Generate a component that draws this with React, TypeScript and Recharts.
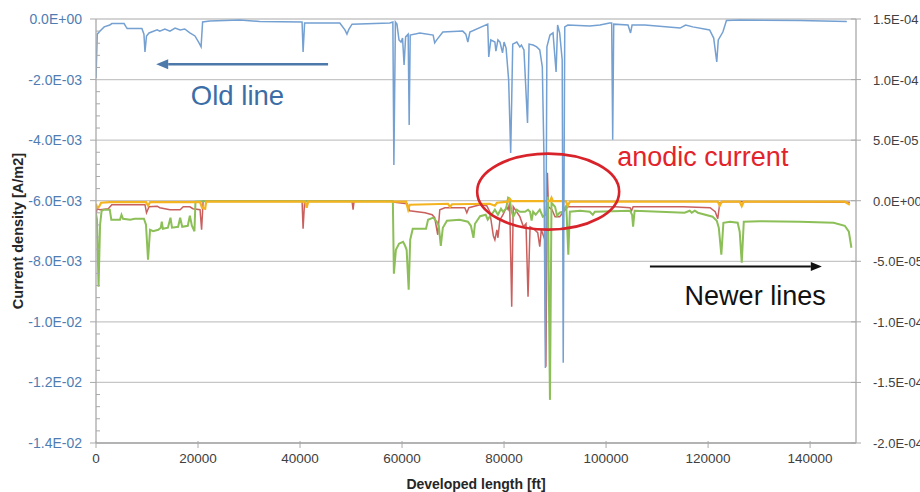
import React from "react";
import { LineChart, Line, XAxis, YAxis, CartesianGrid, ReferenceDot, ReferenceLine, Label } from "recharts";

// ---------- axes ----------
const X_MAX = 149000;
const X_TICKS = [0, 20000, 40000, 60000, 80000, 100000, 120000, 140000];
const LEFT_MAJOR_TICKS = [0, -0.002, -0.004, -0.006, -0.008, -0.01, -0.012, -0.014];
const RIGHT_TICKS = [1.5e-4, 1e-4, 5e-5, 0, -5e-5, -1e-4, -1.5e-4, -2e-4];
const LEFT_MINOR_STEP = 0.0004;

const X_TITLE = "Developed length [ft]";
const Y_TITLE = "Current density [A/m2]";
const OLD_LABEL = "Old line";
const NEW_LABEL = "Newer lines";
const ANODIC_LABEL = "anodic current";

// ---------- series: [developed length ft, current density A/m2] ----------
// Old line (left axis)
const OLD_LINE: [number, number][] = [
  [0, -1.95e-3], [250, -0.5e-3], [800, -0.4e-3], [1600, -0.26e-3], [2700, -0.2e-3], [3100, -0.15e-3],
  [5500, -0.15e-3], [5900, -0.26e-3], [6100, -0.31e-3], [9000, -0.31e-3], [9400, -0.5e-3], [9600, -1.09e-3],
  [9900, -0.56e-3], [10400, -0.46e-3], [12000, -0.36e-3], [12500, -0.4e-3], [13500, -0.33e-3], [14500, -0.4e-3],
  [15500, -0.3e-3], [16500, -0.36e-3], [17400, -0.33e-3], [18400, -0.46e-3], [19400, -0.56e-3], [20200, -0.79e-3],
  [20600, -0.92e-3], [20900, -0.1e-3], [22300, -0.07e-3], [28200, -0.03e-3], [32100, -0.08e-3], [40400, -0.1e-3],
  [40600, -1.09e-3], [40900, -0.13e-3], [47800, -0.13e-3], [48800, -0.36e-3], [49200, -0.5e-3], [49600, -0.33e-3],
  [50200, -0.17e-3], [57600, -0.13e-3], [58200, -0.1e-3], [58400, -4.82e-3], [58700, -0.1e-3], [59000, -0.17e-3],
  [59400, -0.69e-3], [59800, -0.76e-3], [60100, -0.63e-3], [60400, -1.52e-3], [60700, -0.59e-3], [61200, -0.5e-3],
  [61400, -3.5e-3], [61600, -0.53e-3], [63500, -0.46e-3], [66100, -0.53e-3], [66400, -0.79e-3], [66800, -0.69e-3],
  [68000, -0.43e-3], [71900, -0.4e-3], [72500, -0.5e-3], [72900, -0.76e-3], [73300, -0.43e-3], [76800, -0.17e-3],
  [77000, -1.25e-3], [77400, -0.69e-3], [78200, -0.76e-3], [78400, -1.06e-3], [78800, -0.69e-3], [79200, -0.76e-3],
  [79700, -1.12e-3], [80000, -0.76e-3], [80400, -0.96e-3], [80900, -2.01e-3], [81300, -4.42e-3], [81500, -2.67e-3],
  [81700, -0.83e-3], [82500, -0.76e-3], [83100, -0.92e-3], [83400, -0.86e-3], [83900, -1.02e-3], [84600, -3.43e-3],
  [84900, -0.83e-3], [85700, -0.86e-3], [86400, -0.92e-3], [87000, -1.02e-3], [87500, -1.58e-3], [87800, -4.32e-3],
  [88100, -11.52e-3], [88400, -0.92e-3], [89000, -0.53e-3], [89600, -0.46e-3], [90200, -1.75e-3], [90500, -0.2e-3],
  [90900, -0.46e-3], [91400, -1.35e-3], [91600, -11.35e-3], [91900, -0.26e-3], [92500, -0.2e-3], [96800, -0.23e-3],
  [98800, -0.2e-3], [100700, -0.13e-3], [101100, -0.13e-3], [101300, -3.99e-3], [101500, -0.17e-3], [104300, -0.2e-3],
  [104800, -0.46e-3], [105100, -0.2e-3], [107600, -0.2e-3], [114500, -0.3e-3], [115600, -0.2e-3], [117000, -0.26e-3],
  [120300, -0.36e-3], [121100, -0.63e-3], [121700, -1.42e-3], [122000, -0.69e-3], [122900, -0.43e-3], [123600, -0.05e-3],
  [126200, -0.03e-3], [138000, -0.05e-3], [147200, -0.08e-3],
];

// Newer lines (right axis)
const NEWER_RED: [number, number][] = [
  [0, -1.16e-5], [200, -0.66e-5], [800, -0.74e-5], [2400, -0.66e-5], [3100, -0.33e-5], [9600, -0.33e-5],
  [9900, -0.99e-5], [10400, -0.5e-5], [12000, -0.45e-5], [12500, -0.58e-5], [14500, -0.74e-5], [16500, -0.74e-5],
  [17100, -0.5e-5], [18400, -0.5e-5], [19000, -0.66e-5], [20400, -0.74e-5], [20700, -2.4e-5], [21000, -0.04e-5],
  [40400, -0.04e-5], [40600, -2.31e-5], [40900, -0.04e-5], [50200, -0.04e-5], [50400, -0.74e-5], [50600, -0.04e-5],
  [58000, -0.04e-5], [58600, -0.12e-5], [61000, -0.25e-5], [61500, -0.83e-5], [64500, -0.99e-5], [65900, -1.16e-5],
  [66400, -1.4e-5], [67000, -2.81e-5], [67400, -0.74e-5], [68400, -0.58e-5], [72300, -0.58e-5], [72700, -0.99e-5],
  [73100, -0.58e-5], [75300, -0.33e-5], [76600, -0.41e-5], [77200, -0.91e-5], [77900, -2.89e-5], [78200, -3.22e-5],
  [78600, -2.4e-5], [78800, -3.06e-5], [79200, -1.57e-5], [79800, -1.16e-5], [80500, -0.5e-5], [80800, -0.74e-5],
  [81100, -0.17e-5], [81500, -8.76e-5], [81800, -0.5e-5], [83100, -1.32e-5], [83800, -2.15e-5], [84300, -1.9e-5],
  [84700, -7.93e-5], [85100, -2.15e-5], [86000, -2.4e-5], [86600, -2.64e-5], [87000, -3.8e-5], [87300, -2.4e-5],
  [88000, -3.22e-5], [88200, -13.71e-5], [88500, 2.31e-5], [88700, -0.5e-5], [89400, -0.74e-5], [90000, -1.32e-5],
  [90900, -1.32e-5], [91500, -0.99e-5], [92500, -0.5e-5], [96800, -0.5e-5], [101900, -0.5e-5], [104700, -0.58e-5],
  [105000, -0.83e-5], [105300, -0.5e-5], [115100, -0.5e-5], [120400, -0.58e-5], [121400, -0.91e-5], [121900, -1.49e-5],
  [122300, -0.17e-5], [122900, -0.08e-5], [147800, -0.12e-5],
];

const NEWER_GREEN: [number, number][] = [
  [0, -1.07e-5], [200, -1.57e-5], [500, -7.1e-5], [800, -1.98e-5], [1100, -0.83e-5], [1600, -0.74e-5],
  [2700, -0.74e-5], [3000, -1.57e-5], [4700, -1.57e-5], [5000, -1.16e-5], [5300, -1.49e-5], [6700, -1.57e-5],
  [7600, -1.49e-5], [9400, -1.49e-5], [9800, -1.98e-5], [10200, -4.87e-5], [10600, -2.4e-5], [11200, -2.52e-5],
  [12200, -2.4e-5], [12700, -2.23e-5], [12900, -1.73e-5], [13100, -2.31e-5], [14100, -2.23e-5], [14600, -1.4e-5],
  [14900, -2.23e-5], [16100, -2.15e-5], [16500, -1.4e-5], [16900, -2.15e-5], [18000, -2.07e-5], [18400, -1.24e-5],
  [18800, -2.07e-5], [19300, -2.52e-5], [19500, -0.08e-5], [21000, -0.04e-5], [58200, -0.04e-5], [58400, -6.03e-5],
  [58800, -4.05e-5], [59400, -3.55e-5], [60200, -3.39e-5], [60600, -3.72e-5], [60900, -4.05e-5], [61300, -7.35e-5],
  [61600, -3.22e-5], [62100, -2.31e-5], [64700, -2.31e-5], [65100, -1.57e-5], [66100, -1.4e-5], [66800, -1.73e-5],
  [67200, -2.07e-5], [67600, -3.72e-5], [68000, -2.23e-5], [68800, -1.65e-5], [71300, -1.57e-5], [72900, -1.73e-5],
  [73500, -2.07e-5], [74000, -3.06e-5], [74300, -1.9e-5], [75300, -1.28e-5], [76400, -1.16e-5], [76800, -1.57e-5],
  [77200, -1.32e-5], [77800, -0.99e-5], [78200, -0.74e-5], [78800, -1.16e-5], [79400, -0.66e-5], [79800, -0.91e-5],
  [80400, -0.66e-5], [80800, 0.25e-5], [81100, 0.17e-5], [81400, -0.74e-5], [81800, -1.32e-5], [82500, -0.74e-5],
  [83100, -0.91e-5], [84100, -0.91e-5], [84700, -0.74e-5], [85100, -0.91e-5], [85400, -1.65e-5], [85700, -0.91e-5],
  [86200, -1.16e-5], [87000, -0.74e-5], [87600, -1.32e-5], [88200, -1.16e-5], [88600, 0.33e-5], [89000, -16.44e-5],
  [89300, -0.17e-5], [90000, -0.5e-5], [90400, -1.24e-5], [90900, -0.99e-5], [91500, -0.91e-5], [92200, -0.41e-5],
  [92600, -4.46e-5], [92900, -0.91e-5], [94900, -0.83e-5], [96800, -0.91e-5], [97400, -1.16e-5], [97800, -0.91e-5],
  [104700, -0.83e-5], [105100, -1.16e-5], [105300, -2.15e-5], [105600, -0.83e-5], [110500, -0.91e-5], [115400, -0.99e-5],
  [116400, -0.83e-5], [116800, -0.99e-5], [117400, -0.83e-5], [118000, -0.99e-5], [120900, -1.32e-5], [121700, -1.65e-5],
  [122100, -2.23e-5], [122600, -4.46e-5], [123000, -1.82e-5], [124300, -1.73e-5], [125800, -1.82e-5], [126200, -2.56e-5],
  [126600, -5.12e-5], [127000, -1.73e-5], [130100, -1.69e-5], [138000, -1.73e-5], [144600, -1.82e-5], [146800, -2.07e-5],
  [147600, -2.56e-5], [148100, -3.88e-5],
];

const NEWER_YELLOW: [number, number][] = [
  [0, -0.25e-5], [200, -0.58e-5], [600, -0.5e-5], [1000, -0.17e-5], [2700, -0.12e-5], [9800, -0.12e-5],
  [10200, -0.41e-5], [10600, -0.12e-5], [20400, -0.12e-5], [20800, -0.58e-5], [21400, -0.66e-5], [21600, -0.08e-5],
  [41000, -0.08e-5], [41300, -0.58e-5], [41600, -0.08e-5], [60800, -0.08e-5], [61200, -0.74e-5], [61500, -0.33e-5],
  [65500, -0.29e-5], [69000, -0.25e-5], [69400, -0.5e-5], [69800, -0.29e-5], [77200, -0.25e-5], [78200, -0.41e-5],
  [78600, -0.17e-5], [80800, -0.08e-5], [81100, 0.17e-5], [81500, -0.04e-5], [89000, -0.04e-5], [89300, 0.25e-5],
  [89600, -0.04e-5], [92100, -0.04e-5], [92500, -0.41e-5], [92900, -0.08e-5], [121900, -0.08e-5], [122300, -0.41e-5],
  [122700, -0.08e-5], [126200, -0.08e-5], [126600, -0.45e-5], [127000, -0.08e-5], [146800, -0.08e-5], [147800, -0.33e-5],
];

// annotation anchors (data coordinates, left axis)
const OLD_ARROW: [number, number][] = [[45500, -1.49e-3], [11800, -1.49e-3]];
const NEW_ARROW: [number, number][] = [[108600, -8.17e-3], [142300, -8.17e-3]];
const OLD_LABEL_AT: [number, number] = [18600, -2.84e-3];
const ANODIC_LABEL_AT: [number, number] = [102200, -4.87e-3];
const NEW_LABEL_AT: [number, number] = [115400, -9.44e-3];
const ANODIC_CIRCLE_AT: [number, number] = [88650, -5.7e-3];

// ---------- styles ----------
const FONT = "'Liberation Sans', Arial, Helvetica, sans-serif";
const AXIS = "#a9a9a9";
const GRID = "#c6c6c6";
const C_OLD = "#74a0d2";
const C_RED = "#c9605e";
const C_GREEN = "#8cbf57";
const C_YELLOW = "#f3b420";

const toPts = (arr: [number, number][]) => arr.map(([x, y]) => ({ x, y }));

const LEFT_ALL_TICKS: number[] = [];
for (let i = 0; i <= Math.round(0.014 / LEFT_MINOR_STEP); i++) {
  LEFT_ALL_TICKS.push(Number((-i * LEFT_MINOR_STEP).toFixed(6)));
}

function sci(v: number): string {
  if (Math.abs(v) < 1e-15) return "0.0E+00";
  const e = Math.floor(Math.log10(Math.abs(v)) + 1e-9);
  const m = v / Math.pow(10, e);
  return `${m.toFixed(1)}E${e < 0 ? "-" : "+"}${String(Math.abs(e)).padStart(2, "0")}`;
}

const isMajorLeft = (v: number) => LEFT_MAJOR_TICKS.some((t) => Math.abs(t - v) < 1e-9);

const LeftTick = (props: any) => {
  const { x, y, payload } = props;
  const v = payload.value;
  if (!isMajorLeft(v)) {
    return <line x1={x} x2={x + 4} y1={y} y2={y} stroke={AXIS} strokeWidth={1} />;
  }
  return (
    <g>
      <line x1={x - 6} x2={x} y1={y} y2={y} stroke={AXIS} strokeWidth={1} />
      <text x={x - 14} y={y} dy={5} textAnchor="end" fontFamily={FONT} fontSize={14} fill="#4f7db3">
        {sci(v)}
      </text>
    </g>
  );
};

const RightTick = (props: any) => {
  const { x, y, payload } = props;
  return (
    <g>
      <line x1={x - 5} x2={x + 5} y1={y} y2={y} stroke={AXIS} strokeWidth={1} />
      <text x={x + 17} y={y} dy={5} textAnchor="start" fontFamily={FONT} fontSize={13} fill="#404040">
        {sci(payload.value)}
      </text>
    </g>
  );
};

const XTick = (props: any) => {
  const { x, y, payload } = props;
  return (
    <g>
      <line x1={x} x2={x} y1={y - 2} y2={y + 5} stroke={AXIS} strokeWidth={1} />
      <text x={x} y={y + 20} textAnchor="middle" fontFamily={FONT} fontSize={13.5} fill="#404040">
        {String(payload.value)}
      </text>
    </g>
  );
};

const renderXTitle = (p: any) => {
  const vb = p.viewBox || { x: 96, y: 443, width: 760, height: 49 };
  return (
    <text x={vb.x + vb.width / 2} y={vb.y + 46} textAnchor="middle" fontFamily={FONT} fontSize={14} fontWeight="bold" fill="#262626">
      {X_TITLE}
    </text>
  );
};

const renderYTitle = (p: any) => {
  const vb = p.viewBox || { x: 0, y: 19, width: 96, height: 424 };
  const cx = vb.x + 18;
  const cy = vb.y + vb.height / 2;
  return (
    <text x={cx} y={cy} transform={`rotate(-90 ${cx} ${cy})`} textAnchor="middle" dominantBaseline="central" fontFamily={FONT} fontSize={14.5} fontWeight="bold" fill="#262626">
      {Y_TITLE}
    </text>
  );
};

const arrowShape = (color: string, width: number, head: number, half: number) => (p: any) => {
  const { x1, y1, x2, y2 } = p;
  const ang = Math.atan2(y2 - y1, x2 - x1);
  const bx = x2 - head * Math.cos(ang);
  const by = y2 - head * Math.sin(ang);
  const nx = -Math.sin(ang) * half;
  const ny = Math.cos(ang) * half;
  return (
    <g>
      <line x1={x1} y1={y1} x2={bx} y2={by} stroke={color} strokeWidth={width} />
      <polygon points={`${x2},${y2} ${bx + nx},${by + ny} ${bx - nx},${by - ny}`} fill={color} />
    </g>
  );
};

const textShape = (label: string, color: string, size: number) => (p: any) => (
  <text x={p.cx} y={p.cy} fontFamily={FONT} fontSize={size} fill={color} textAnchor="start">
    {label}
  </text>
);

const ellipseShape = (p: any) => (
  <ellipse cx={p.cx} cy={p.cy} rx={71} ry={38} fill="none" stroke="#d8232a" strokeWidth={2.6} />
);

export default function App() {
  return (
    <div style={{ position: "absolute", left: 0, top: 0, width: 920, height: 492, background: "#ffffff" }}>
      <LineChart width={920} height={492} margin={{ top: 19, right: 0, bottom: 0, left: 0 }}>
        <CartesianGrid yAxisId="right" vertical={false} stroke={GRID} strokeWidth={1.3} />
        <XAxis
          type="number"
          dataKey="x"
          domain={[0, X_MAX]}
          ticks={X_TICKS}
          interval={0}
          height={49}
          tickSize={0}
          tickMargin={0}
          tickLine={false}
          tick={(p: any) => <XTick {...p} />}
          axisLine={{ stroke: AXIS, strokeWidth: 1.3 }}
          allowDataOverflow
        >
          <Label content={renderXTitle} />
        </XAxis>
        <YAxis
          yAxisId="left"
          orientation="left"
          width={96}
          domain={[-0.014, 0]}
          ticks={LEFT_ALL_TICKS}
          interval={0}
          tickSize={0}
          tickMargin={0}
          tickLine={false}
          tick={(p: any) => <LeftTick {...p} />}
          axisLine={{ stroke: AXIS, strokeWidth: 1.3 }}
          allowDataOverflow
        >
          <Label content={renderYTitle} />
        </YAxis>
        <YAxis
          yAxisId="right"
          orientation="right"
          width={64}
          domain={[-2e-4, 1.5e-4]}
          ticks={RIGHT_TICKS}
          interval={0}
          tickSize={0}
          tickMargin={0}
          tickLine={false}
          tick={(p: any) => <RightTick {...p} />}
          axisLine={{ stroke: AXIS, strokeWidth: 1.3 }}
          allowDataOverflow
        />
        <Line yAxisId="right" data={toPts(NEWER_RED)} dataKey="y" type="linear" stroke={C_RED} strokeWidth={1.5} dot={false} isAnimationActive={false} />
        <Line yAxisId="right" data={toPts(NEWER_GREEN)} dataKey="y" type="linear" stroke={C_GREEN} strokeWidth={2} dot={false} isAnimationActive={false} />
        <Line yAxisId="right" data={toPts(NEWER_YELLOW)} dataKey="y" type="linear" stroke={C_YELLOW} strokeWidth={2.2} dot={false} isAnimationActive={false} />
        <Line yAxisId="left" data={toPts(OLD_LINE)} dataKey="y" type="linear" stroke={C_OLD} strokeWidth={1.5} dot={false} isAnimationActive={false} />

        <ReferenceLine
          yAxisId="left"
          segment={[{ x: OLD_ARROW[0][0], y: OLD_ARROW[0][1] }, { x: OLD_ARROW[1][0], y: OLD_ARROW[1][1] }]}
          shape={arrowShape("#4d78aa", 2.5, 12, 5)}
        />
        <ReferenceLine
          yAxisId="left"
          segment={[{ x: NEW_ARROW[0][0], y: NEW_ARROW[0][1] }, { x: NEW_ARROW[1][0], y: NEW_ARROW[1][1] }]}
          shape={arrowShape("#111111", 2, 11, 4.5)}
        />
        <ReferenceDot yAxisId="left" x={OLD_LABEL_AT[0]} y={OLD_LABEL_AT[1]} shape={textShape(OLD_LABEL, "#3b6ea6", 27.5)} />
        <ReferenceDot yAxisId="left" x={ANODIC_LABEL_AT[0]} y={ANODIC_LABEL_AT[1]} shape={textShape(ANODIC_LABEL, "#e3232b", 27)} />
        <ReferenceDot yAxisId="left" x={NEW_LABEL_AT[0]} y={NEW_LABEL_AT[1]} shape={textShape(NEW_LABEL, "#111111", 27)} />
        <ReferenceDot yAxisId="left" x={ANODIC_CIRCLE_AT[0]} y={ANODIC_CIRCLE_AT[1]} shape={ellipseShape} />
      </LineChart>
    </div>
  );
}
